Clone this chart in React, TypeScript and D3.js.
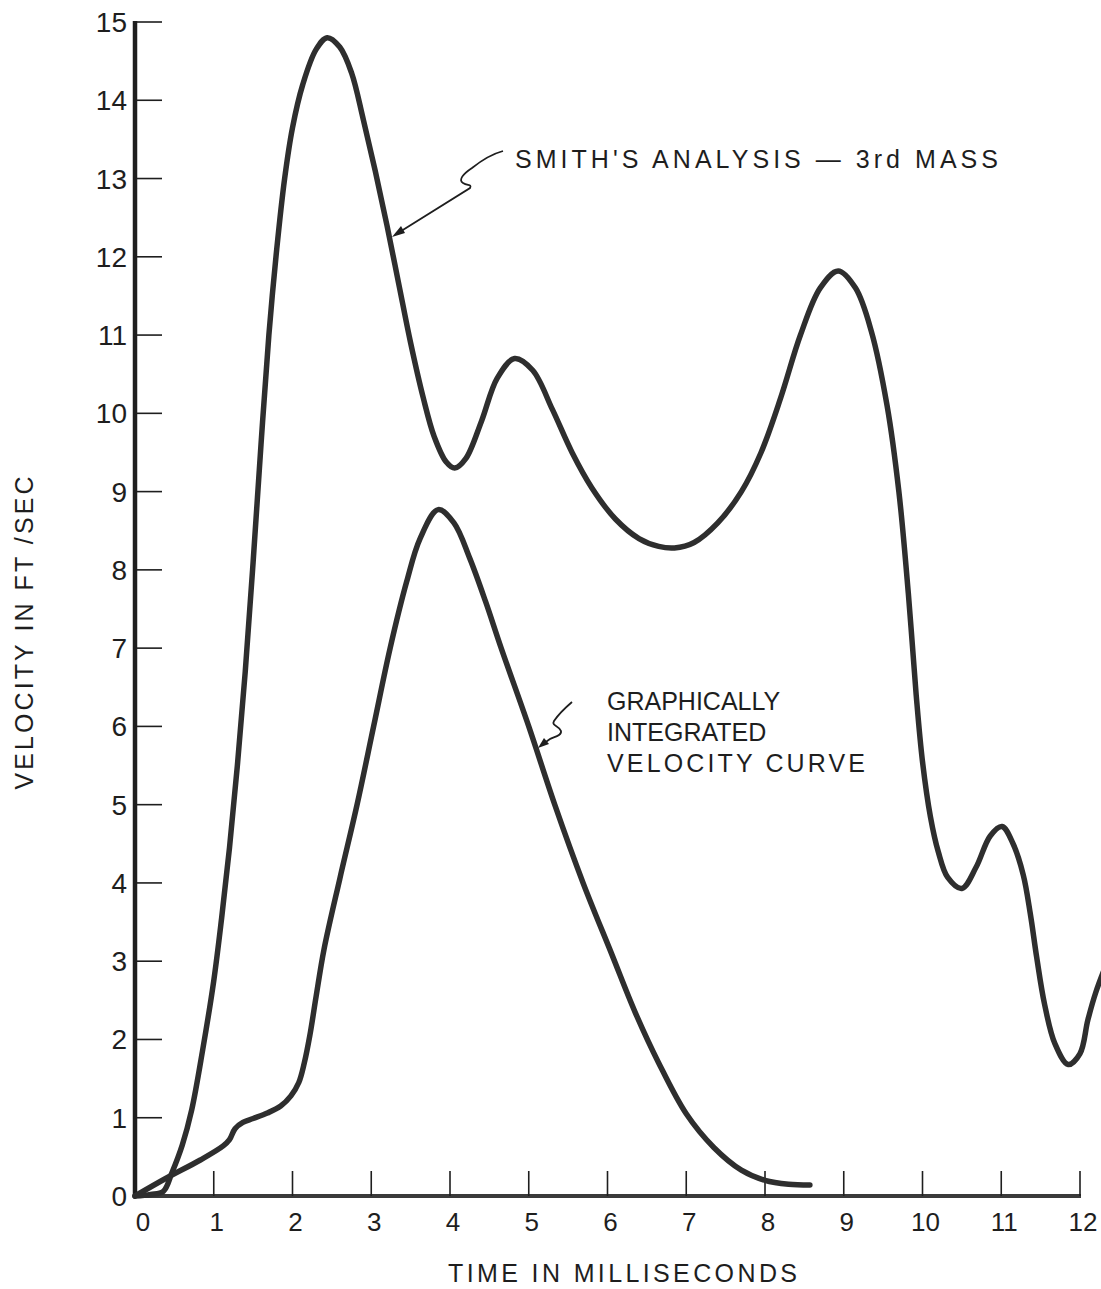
import React from "react";
import * as d3 from "d3";

const WIDTH = 1101;
const HEIGHT = 1289;

// Smith's analysis, 3rd mass (time in ms, velocity in ft/sec)
const smithTime = [
  0, 0.2, 0.36, 0.47, 0.6, 0.72, 0.86, 1.0, 1.1, 1.2, 1.3, 1.4, 1.5, 1.6, 1.7, 1.8,
  1.9, 2.0, 2.13, 2.3, 2.44, 2.6, 2.75, 2.9, 3.05, 3.2, 3.35, 3.5, 3.66, 3.8, 3.95,
  4.06, 4.2, 4.4, 4.6, 4.82, 5.05, 5.3, 5.55, 5.8, 6.1, 6.4, 6.65, 6.85, 7.1, 7.4,
  7.7, 7.95, 8.2, 8.45, 8.7, 8.93, 9.15, 9.35, 9.55, 9.7, 9.82, 9.92, 10.0, 10.1,
  10.2, 10.32, 10.5, 10.68, 10.86, 11.01, 11.15, 11.28, 11.37, 11.45, 11.55, 11.68,
  11.85, 12.0, 12.1, 12.2, 12.35,
];
const smithVelocity = [
  0, 0.02, 0.06, 0.3, 0.65, 1.1, 1.87, 2.75, 3.55, 4.45, 5.5, 6.7, 8.1, 9.6, 11.0,
  12.1, 13.0, 13.65, 14.2, 14.65, 14.8, 14.68, 14.35, 13.75, 13.1, 12.4, 11.65,
  10.9, 10.2, 9.7, 9.38, 9.3, 9.42, 9.9, 10.45, 10.7, 10.55, 10.05, 9.5, 9.05, 8.65,
  8.4, 8.3, 8.28, 8.35, 8.6, 9.0, 9.5, 10.2, 11.0, 11.6, 11.82, 11.6, 11.05, 10.1,
  9.0, 7.7, 6.4, 5.55, 4.85, 4.4, 4.07, 3.93, 4.2, 4.6, 4.72, 4.5, 4.1, 3.6, 3.05,
  2.45, 1.95, 1.68, 1.82, 2.25, 2.6, 3.0,
];

// Graphically integrated velocity curve
const integratedTime = [
  0, 0.4, 0.83, 1.12, 1.2, 1.27, 1.37, 1.5, 1.68, 1.85, 1.98, 2.08, 2.15, 2.22, 2.3,
  2.4, 2.6, 2.82, 3.03, 3.24, 3.45, 3.62, 3.85, 4.05, 4.25, 4.45, 4.65, 5.0, 5.33,
  5.69, 6.05, 6.35, 6.65, 7.0, 7.35, 7.7, 8.0, 8.3, 8.57,
];
const integratedVelocity = [
  0, 0.23, 0.46, 0.64, 0.72, 0.86, 0.94, 0.99, 1.06, 1.15, 1.28, 1.45, 1.7, 2.05,
  2.55, 3.15, 4.05, 5.0, 6.0, 7.0, 7.85, 8.4, 8.77, 8.6, 8.15, 7.6, 7.0, 6.0, 5.0,
  4.0, 3.1, 2.35, 1.7, 1.05, 0.62, 0.33, 0.2, 0.15, 0.14,
];

const timeTicks = [0, 1, 2, 3, 4, 5, 6, 7, 8, 9, 10, 11, 12];
const velocityTicks = [0, 1, 2, 3, 4, 5, 6, 7, 8, 9, 10, 11, 12, 13, 14, 15];

const FONT = "'Liberation Sans', 'DejaVu Sans', sans-serif";
const INK = "#1e1e1e";
const CURVE = "#2e2e2e";

export default function App() {
  const x = d3.scaleLinear().domain([0, 12]).range([135, 1080]);
  const y = d3.scaleLinear().domain([0, 15]).range([1196, 22]);

  const curvePath = (times: number[], values: number[]) =>
    d3
      .line<number>()
      .x((_, i) => x(times[i]))
      .y((v) => y(v))
      .curve(d3.curveCatmullRom.alpha(0.5))(values) ?? "";

  const smithPath = curvePath(smithTime, smithVelocity);
  const integratedPath = curvePath(integratedTime, integratedVelocity);

  return (
    <svg
      width={WIDTH}
      height={HEIGHT}
      viewBox={`0 0 ${WIDTH} ${HEIGHT}`}
      style={{ position: "absolute", left: 0, top: 0, background: "#fff" }}
      fontFamily={FONT}
    >
      <rect x={0} y={0} width={WIDTH} height={HEIGHT} fill="#fff" />

      {/* velocity axis */}
      <line x1={x(0)} x2={x(0)} y1={y(15) - 1} y2={y(0) + 2} stroke={INK} strokeWidth={4.5} />
      {velocityTicks.map((v) => (
        <g key={`vy${v}`}>
          {v > 0 && (
            <line x1={x(0)} x2={x(0) + 27} y1={y(v)} y2={y(v)} stroke={INK} strokeWidth={1.6} />
          )}
          <text x={127} y={y(v) + 10} textAnchor="end" fontSize={28} fill={INK}>
            {v}
          </text>
        </g>
      ))}

      {/* time axis */}
      <line x1={x(0) - 2} x2={x(12) + 1} y1={y(0)} y2={y(0)} stroke="#3a3a3a" strokeWidth={4} />
      {timeTicks.map((t) => (
        <g key={`tx${t}`}>
          {t > 0 && (
            <line x1={x(t)} x2={x(t)} y1={y(0)} y2={y(0) - 25} stroke={INK} strokeWidth={1.6} />
          )}
          <text x={x(t) + (t === 0 ? 8 : 3)} y={1231} textAnchor="middle" fontSize={26} fill={INK}>
            {t}
          </text>
        </g>
      ))}

      {/* axis titles */}
      <text x={448} y={1282} fontSize={25} fill={INK} textLength={349} lengthAdjust="spacing">
        TIME  IN  MILLISECONDS
      </text>
      <text
        transform="translate(33, 633) rotate(-90)"
        textAnchor="middle"
        fontSize={25}
        fill={INK}
        textLength={313}
        lengthAdjust="spacing"
      >
        VELOCITY  IN  FT /SEC
      </text>

      {/* curves */}
      <path d={smithPath} fill="none" stroke={CURVE} strokeWidth={5.5} strokeLinejoin="round" strokeLinecap="round" />
      <path d={integratedPath} fill="none" stroke={CURVE} strokeWidth={5.5} strokeLinejoin="round" strokeLinecap="round" />

      {/* annotation: Smith's analysis */}
      <text x={515} y={168} fontSize={25} fill={INK} textLength={483} lengthAdjust="spacing">
        SMITH'S  ANALYSIS — 3rd  MASS
      </text>
      <path
        d="M503,151 C492,154 482,160 472,168 C463,174 458,180 463,183 C468,186 472,184 470,188 L398,233"
        fill="none"
        stroke={INK}
        strokeWidth={1.8}
      />
      <path d="M392,237 L401,226 L405,233 Z" fill={INK} />

      {/* annotation: integrated curve */}
      <text fontSize={25} fill={INK}>
        <tspan x={607} y={710}>GRAPHICALLY</tspan>
        <tspan x={607} y={741}>INTEGRATED</tspan>
        <tspan x={607} y={772} textLength={258} lengthAdjust="spacing">VELOCITY  CURVE</tspan>
      </text>
      <path
        d="M572,702 C565,708 558,715 554,721 C551,726 560,726 561,731 C562,736 553,737 550,739 L543,744"
        fill="none"
        stroke={INK}
        strokeWidth={1.8}
      />
      <path d="M538,748 L544,738 L549,744 Z" fill={INK} />
    </svg>
  );
}
